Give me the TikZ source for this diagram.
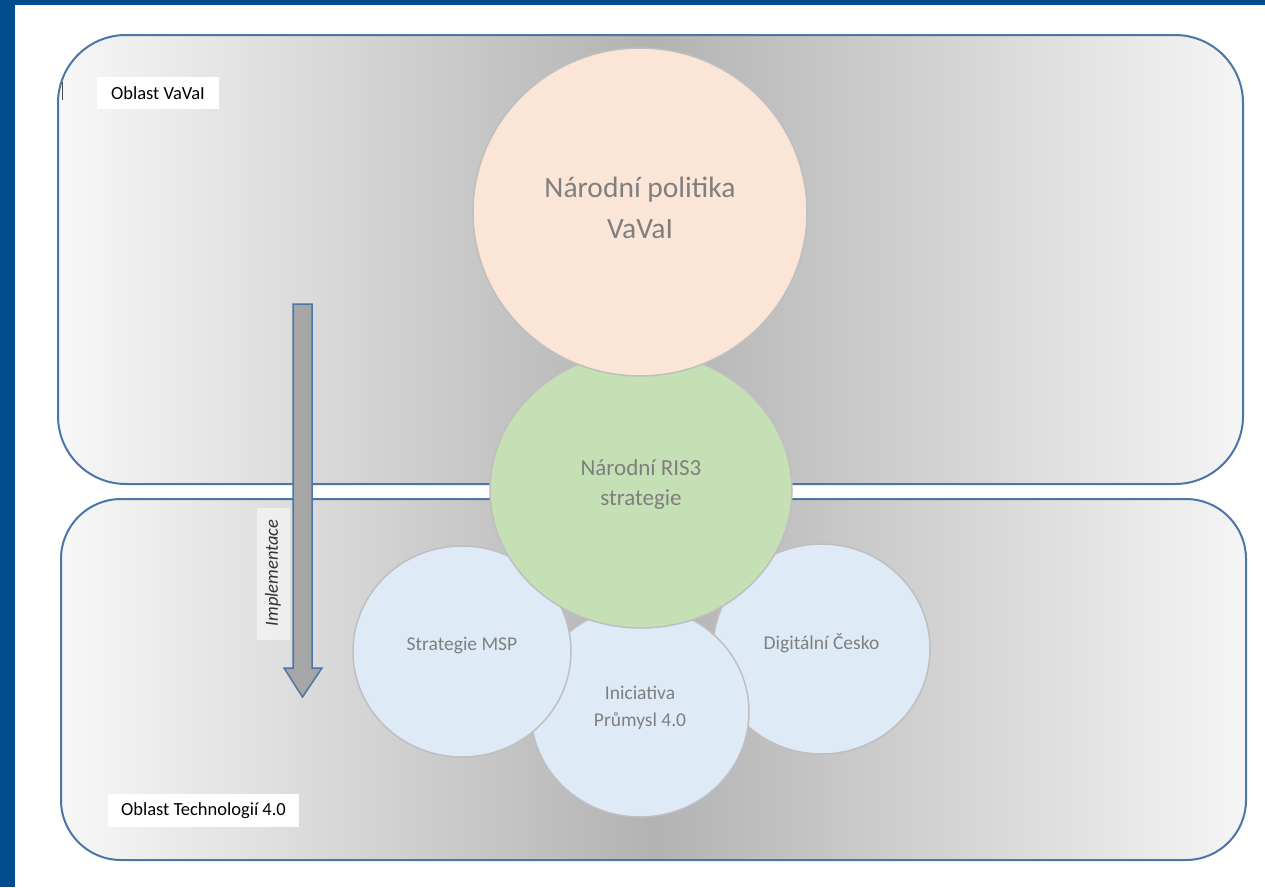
\documentclass[tikz,border=0pt]{standalone}
\usepackage{fontspec}
\setmainfont{Carlito}
\usetikzlibrary{shapes.geometric}
\definecolor{frameblue}{RGB}{0,76,140}
\definecolor{edgeblue}{RGB}{74,118,168}
\definecolor{peachfill}{RGB}{251,229,214}
\definecolor{risgreen}{RGB}{197,224,180}
\definecolor{paleblue}{RGB}{222,235,247}
\definecolor{circedge}{RGB}{191,191,191}
\definecolor{txtgray}{RGB}{127,127,127}
\definecolor{arrowgray}{RGB}{166,166,166}
\pgfdeclarehorizontalshading{regionshade}{100bp}{color(0bp)=(black!3); color(25bp)=(black!3); color(50bp)=(black!30); color(75bp)=(black!4); color(100bp)=(black!4)}
\tikzset{
  region/.style={draw=edgeblue, line width=2pt, rounded corners=#1, shading=regionshade},
  circ/.style={ellipse, draw=circedge, line width=1.5pt, inner sep=0pt, outer sep=0pt},
  ctext/.style={text=txtgray, align=center, inner sep=0pt},
  tag/.style={fill=white, text=black, inner sep=0pt, font=\fontsize{18.5}{22}\selectfont}
}
\begin{document}
\begin{tikzpicture}[x=1pt,y=-1pt]
\useasboundingbox (0,0) rectangle (1265,887);
\fill[white] (0,0) rectangle (1265,887);
\fill[frameblue] (0,0) rectangle (1265,5);
\fill[frameblue] (0,0) rectangle (15,887);

% regions
\path[region=68pt] (58,35) rectangle (1243,484);
\path[region=60pt] (61,499) rectangle (1246,860);

% small artifact mark
\draw[black!70, line width=1pt] (62,82) -- (62,100);

% labels of regions
\node[tag, minimum width=122pt, minimum height=32pt] (lvaval) at (158,93) {Oblast VaVaI};
\node[tag, minimum width=191pt, minimum height=33pt] (ltech) at (203.5,810.5) {Oblast Technologií 4.0};

% implementation arrow
\fill[white, opacity=0.5] (257,508) rectangle (290,640);
\node[rotate=90, inner sep=0pt, font=\fontsize{18.5}{22}\selectfont\itshape, text=black!80] (impl) at (273,573) {Implementace};
\draw[edgeblue, fill=arrowgray, line width=1.5pt, line join=miter]
  (293,304) -- (312,304) -- (312,668) -- (322,668) -- (302.5,697) -- (284,668) -- (293,668) -- cycle;

% circles
\node[circ, fill=paleblue, minimum width=217pt, minimum height=210pt] (dig) at (821.5,649) {};
\node[circ, fill=paleblue, minimum width=218pt, minimum height=210pt] (ini) at (640,712) {};
\node[circ, fill=paleblue, minimum width=218pt, minimum height=211pt] (msp) at (462,651.5) {};
\node[circ, fill=risgreen, minimum width=302pt, minimum height=276pt] (ris) at (641,490) {};
\node[circ, fill=peachfill, minimum width=334pt, minimum height=328pt] (nat) at (640,212) {};

\node[ctext, font=\fontsize{19.5}{25}\selectfont] (tdig) at ([yshift=6pt]dig.center) {Digitální Česko};
\node[ctext, font=\fontsize{19.5}{27}\selectfont] (tini) at ([yshift=4pt]ini.center) {Iniciativa\\Průmysl 4.0};
\node[ctext, font=\fontsize{19.5}{25}\selectfont] (tmsp) at ([yshift=6pt]msp.center) {Strategie MSP};
\node[ctext, font=\fontsize{23}{30}\selectfont] (tris) at ([yshift=6pt]ris.center) {Národní RIS3\\strategie};
\node[ctext, font=\fontsize{29.5}{41}\selectfont] (tnat) at ([yshift=4pt]nat.center) {Národní politika\\VaVaI};
\end{tikzpicture}
\end{document}
